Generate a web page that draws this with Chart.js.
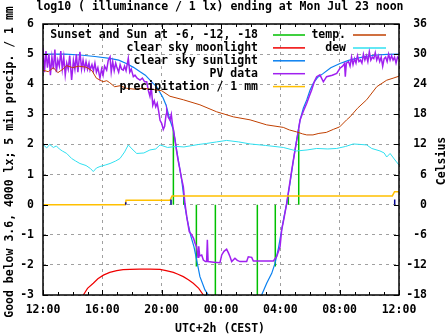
<!DOCTYPE html>
<html>
<head>
<meta charset="utf-8">
<script src="https://cdn.jsdelivr.net/npm/chart.js@4/dist/chart.umd.min.js"></script>
<style>
  html, body { margin: 0; padding: 0; background: #fff; }
  canvas { display: block; }
</style>
</head>
<body>
<canvas id="grafico" width="447" height="335"></canvas>
<script>
// x = hours after 12:00 (Sun noon -> Mon noon)
const xTickLabels = ['12:00', '16:00', '20:00', '00:00', '04:00', '08:00', '12:00'];

// sunset / sun at -6, -12, -18 deg, evening then morning
const sunEventHours = [8.79, 9.49, 10.34, 11.62, 14.45, 15.66, 16.54, 17.24];
const sunEventTops = [2.5, 0.3, -2.05, -3, -3, -2.05, 0.3, 2.5];

const moonHours = [2.72, 3.0, 3.39, 3.7, 4.07, 4.5, 4.97, 5.4, 5.87, 6.5, 7.2, 7.89, 8.3, 8.79, 9.1, 9.46, 9.8, 10.13, 10.5, 10.81];
const moonValues = [-3, -2.78, -2.61, -2.46, -2.34, -2.25, -2.19, -2.16, -2.15, -2.14, -2.14, -2.15, -2.19, -2.25, -2.31, -2.39, -2.49, -2.61, -2.78, -3];

const sunHours = [0, 1.5, 2.5, 3.5, 4.5, 5.1, 5.62, 6.1, 6.52, 6.9, 7.42, 7.66, 8.09, 8.3, 8.56, 8.79, 9.12, 9.35, 9.57, 9.73, 9.95, 10.18, 10.36, 10.58, 10.92, 11.15,
  12.9,
  14.74, 15.08, 15.42, 15.64, 15.87, 16.09, 16.25, 16.43, 16.65, 16.88, 17.1, 17.33, 17.55, 17.78, 18.0, 18.22, 18.5, 18.9, 19.4, 20.02, 20.6, 21.15, 21.8, 22.5, 23.2, 24];
const sunValues = [5.0, 5.0, 4.97, 4.92, 4.86, 4.8, 4.69, 4.56, 4.42, 4.3, 4.03, 3.92, 3.55, 3.3, 2.81, 2.48, 1.48, 0.82, -0.07, -0.51, -1.01, -1.40, -1.84, -2.39, -2.83, -3.0,
  null,
  -3.0, -2.61, -2.28, -1.95, -1.45, -0.84, -0.40, 0.04, 0.71, 1.48, 2.15, 2.81, 3.2, 3.48, 3.8, 4.03, 4.22, 4.36, 4.55, 4.69, 4.79, 4.86, 4.93, 4.97, 4.99, 5.0];

const pvHours = [0, 0.1, 0.2, 0.3, 0.4, 0.5, 0.6, 0.7, 0.8, 0.9, 1.0, 1.1, 1.2, 1.3, 1.4, 1.5, 1.6, 1.7, 1.8, 1.93,
  2.05, 2.15, 2.25, 2.35, 2.49, 2.6, 2.7, 2.8, 2.9, 3.0, 3.1, 3.17, 3.3, 3.4, 3.5, 3.6, 3.7, 3.84, 3.95, 4.05,
  4.15, 4.29, 4.4, 4.52, 4.6, 4.7, 4.8, 4.9, 4.97, 5.1, 5.2, 5.3, 5.41, 5.5, 5.6, 5.75, 5.85, 5.95, 6.09, 6.2,
  6.35, 6.54, 6.7, 6.85, 6.99, 7.1, 7.21, 7.3, 7.4, 7.5, 7.6, 7.7, 7.8, 7.89, 8.0, 8.11, 8.2, 8.3, 8.34, 8.45,
  8.56, 8.65, 8.72, 8.8, 8.9, 9.0, 9.1, 9.24, 9.35, 9.46, 9.57, 9.69, 9.86, 10.02, 10.15, 10.25, 10.36, 10.45, 10.5, 10.56,
  10.7, 10.81, 10.95, 11.03, 11.08, 11.13, 11.5, 11.93, 12.05, 12.2, 12.38, 12.5, 12.61, 12.72, 12.94, 13.1, 13.28, 13.73, 13.84, 14.07,
  14.18, 15.53, 15.75, 15.98, 16.09, 16.25, 16.43, 16.6, 16.77, 16.99, 17.15, 17.33, 17.55, 17.78, 17.95, 18.11, 18.3, 18.45, 18.67, 18.9,
  19.12, 19.5, 19.8, 20.02, 20.2, 20.33, 20.38, 20.45, 20.6, 20.7, 20.8, 20.9, 21.0, 21.1, 21.2, 21.3, 21.4, 21.5, 21.6, 21.7,
  21.8, 21.9, 22.0, 22.1, 22.2, 22.3, 22.4, 22.5, 22.6, 22.7, 22.8, 22.9, 23.0, 23.1, 23.2, 23.3, 23.4, 23.5, 23.6, 23.7,
  23.8, 23.9, 24];
const pvValues = [5.2, 4.4, 5.1, 4.55, 5.0, 4.3, 4.9, 4.5, 5.15, 4.4, 4.8, 4.6, 5.1, 4.5, 4.9, 4.3, 4.7, 4.5, 4.95, 4.14,
  4.8, 4.5, 5.0, 4.4, 5.08, 4.5, 4.8, 4.5, 4.75, 4.5, 4.7, 4.47, 4.65, 4.45, 4.7, 4.4, 4.55, 4.2, 4.5, 4.3,
  4.6, 4.47, 4.8, 4.91, 4.4, 4.75, 4.45, 4.7, 4.58, 4.4, 4.65, 4.5, 4.47, 4.6, 4.45, 4.86, 4.4, 4.5, 4.25, 4.3,
  4.2, 4.14, 4.2, 4.08, 4.08, 3.8, 3.6, 3.9, 3.3, 3.45, 3.25, 3.37, 3.1, 2.8, 2.7, 2.5, 2.6, 3.0, 3.14, 2.9,
  2.81, 3.0, 2.7, 2.45, 2.15, 1.8, 1.5, 1.15, 0.85, 0.6, 0.04, -0.4, -0.9, -1.0, -1.12, -1.28, -1.4, -1.75, -1.38, -1.7,
  -1.67, -1.84, -1.89, -1.89, -1.17, -1.89, -1.91, -1.93, -1.67, -1.55, -1.48, -1.6, -1.73, -1.89, -1.78, -1.85, -1.89, -1.89, -1.73, -1.75,
  -1.87, -1.87, -1.73, -1.4, -0.84, -0.45, 0.04, 0.6, 1.15, 1.81, 2.26, 2.81, 3.1, 3.37, 3.6, 3.81, 4.1, 4.25, 4.31, 4.08,
  4.25, 4.3, 4.36, 4.53, 4.6, 4.69, 4.25, 4.7, 4.75, 4.6, 4.9, 4.65, 4.85, 4.7, 4.95, 4.75, 4.8, 4.7, 5.0, 4.8,
  4.95, 4.75, 5.08, 4.8, 4.9, 4.85, 5.05, 4.8, 4.95, 4.75, 4.9, 4.6, 4.85, 4.9, 4.75, 5.0, 4.8, 4.95, 4.8, 4.9,
  4.7, 4.9, 4.85];

// cumulative precipitation (mm) and 5 min impulses
const precipHours = [0, 5.55, 5.6, 8.55, 8.62, 8.7, 23.55, 23.7, 24];
const precipValues = [0, 0, 0.145, 0.145, 0.2, 0.29, 0.29, 0.43, 0.43];
const rainHours = [5.58, 8.63, 23.71];
const rainValues = [0.08, 0.17, 0.17];

// temperatures in Celsius (right axis)
const tempHours = [0, 0.35, 0.7, 1.0, 1.35, 1.6, 2.0, 2.4, 2.9, 3.3, 3.6, 4.05, 4.3, 4.5, 4.83, 5.2, 5.62, 6.2, 6.74, 7.3,
  8.0, 8.56, 9.46, 10.58, 11.71, 12.83, 13.96, 15.08, 16.2, 16.6, 17.1, 17.5, 17.78, 18.2, 18.6, 19.1, 19.57, 20.0, 20.47, 20.7,
  21.2, 21.82, 22.5, 23.17, 23.6, 24];
const tempCelsius = [26.8, 26.5, 27.3, 26.3, 27.0, 27.7, 27.3, 27.6, 27.4, 26.7, 25.2, 24.5, 24.7, 24.3, 23.5, 23.7, 23.2, 23.0, 23.2, 23.0,
  22.7, 21.6, 20.9, 19.9, 18.5, 17.5, 16.9, 15.9, 15.4, 14.9, 14.5, 14.1, 13.9, 13.9, 14.2, 14.4, 15.0, 15.5, 16.9, 17.5,
  19.2, 20.9, 23.5, 24.8, 25.2, 25.6];

const dewHours = [0, 0.25, 0.45, 0.7, 0.9, 1.1, 1.3, 1.6, 1.93, 2.2, 2.49, 2.9, 3.2, 3.39, 3.6, 3.84, 4.2, 4.52, 4.9, 5.19,
  5.5, 5.75, 6.0, 6.32, 6.8, 7.21, 7.6, 7.89, 8.4, 9.01, 9.5, 9.91, 10.5, 11.03, 11.7, 12.38, 13.2, 13.96, 15.0, 16.2,
  17.1, 17.8, 18.45, 19.2, 19.8, 20.4, 20.92, 21.4, 21.82, 22.16, 22.72, 23.0, 23.17, 23.4, 23.73, 24];
const dewCelsius = [12.0, 11.3, 12.0, 11.4, 11.7, 11.1, 10.7, 10.2, 9.2, 8.7, 8.2, 7.8, 7.2, 6.6, 7.3, 7.6, 7.9, 8.2, 8.7, 9.2,
  10.5, 11.9, 11.1, 10.2, 10.3, 10.9, 11.1, 11.9, 11.4, 11.6, 11.5, 11.7, 12.0, 12.2, 12.5, 12.8, 12.5, 12.1, 11.8, 11.4,
  10.7, 10.9, 11.2, 11.1, 11.2, 11.6, 12.1, 12.0, 11.9, 11.2, 10.7, 10.3, 9.5, 10.2, 8.9, 7.9];

const FONT = 'bold 11.5px "DejaVu Sans Mono"';

function toPoints(xs, ys) {
  return xs.map((x, i) => ({ x: x, y: ys[i] }));
}

// vertical bars from 0 to top, separated by gaps
function impulses(xs, tops) {
  const pts = [];
  xs.forEach((x, i) => {
    pts.push({ x: x, y: 0 }, { x: x, y: tops[i] }, { x: x, y: null });
  });
  return pts;
}

const decor = {
  id: 'decor',
  afterDatasetsDraw(chart) {
    const { ctx, chartArea: a, scales } = chart;
    const xs = scales.x, ys = scales.y;
    ctx.save();

    // inward tick marks
    ctx.strokeStyle = '#000';
    ctx.lineWidth = 1;
    ctx.beginPath();
    for (let v = -3; v <= 6; v++) {
      const py = Math.round(ys.getPixelForValue(v)) + 0.5;
      ctx.moveTo(a.left, py); ctx.lineTo(a.left + 5, py);
      ctx.moveTo(a.right, py); ctx.lineTo(a.right - 5, py);
    }
    for (let h = 0; h <= 24; h++) {
      const px = Math.round(xs.getPixelForValue(h)) + 0.5;
      const len = h % 4 === 0 ? 5 : 3;
      ctx.moveTo(px, a.bottom); ctx.lineTo(px, a.bottom - len);
      ctx.moveTo(px, a.top); ctx.lineTo(px, a.top + len);
    }
    ctx.stroke();

    // border
    ctx.lineWidth = 1.5;
    ctx.strokeRect(a.left, a.top, a.right - a.left, a.bottom - a.top);

    // legend, gnuplot style: text right-aligned, sample to the right
    ctx.font = FONT;
    ctx.textBaseline = 'middle';
    ctx.textAlign = 'right';
    const cols = [{ textRight: 258, x1: 273, x2: 305 }, { textRight: 346, x1: 353, x2: 386 }];
    chart.data.datasets.forEach(ds => {
      if (!ds.legendSlot) return;
      const c = cols[ds.legendSlot[0]];
      const y = 35 + ds.legendSlot[1] * 12.9;
      ctx.fillStyle = '#000';
      ctx.fillText(ds.label, c.textRight, y);
      ctx.strokeStyle = ds.borderColor;
      ctx.lineWidth = 1.5;
      ctx.beginPath();
      ctx.moveTo(c.x1, y); ctx.lineTo(c.x2, y);
      ctx.stroke();
    });

    // titles
    ctx.fillStyle = '#000';
    ctx.textAlign = 'center';
    ctx.textBaseline = 'alphabetic';
    ctx.fillText('log10 ( illuminance / 1 lx) ending at Mon Jul 23 noon', 220, 9.5);
    ctx.fillText('UTC+2h (CEST)', 220, 332);

    ctx.save();
    ctx.translate(13, 162);
    ctx.rotate(-Math.PI / 2);
    ctx.fillText('Good below 3.6, 4000 lx; 5 min precip. / 1 mm', 0, 0);
    ctx.restore();

    ctx.save();
    ctx.translate(445, 161);
    ctx.rotate(-Math.PI / 2);
    ctx.fillText('Celsius', 0, 0);
    ctx.restore();

    ctx.restore();
  }
};

new Chart(document.getElementById('grafico'), {
  type: 'line',
  data: {
    datasets: [
      { label: 'dew', data: toPoints(dewHours, dewCelsius), yAxisID: 'y2', borderColor: '#30e0f0', borderWidth: 1, legendSlot: [1, 1] },
      { label: 'temp.', data: toPoints(tempHours, tempCelsius), yAxisID: 'y2', borderColor: '#c04000', borderWidth: 1, legendSlot: [1, 0] },
      { label: '5 min precip.', data: impulses(rainHours, rainValues), borderColor: '#000090', borderWidth: 1.5 },
      { label: 'precipitation / 1 mm', data: toPoints(precipHours, precipValues), borderColor: '#ffc000', borderWidth: 1.5, legendSlot: [0, 4] },
      { label: 'PV data', data: toPoints(pvHours, pvValues), borderColor: '#a020f0', borderWidth: 1.5, legendSlot: [0, 3] },
      { label: 'clear sky sunlight', data: toPoints(sunHours, sunValues), borderColor: '#0a80f0', borderWidth: 1.2, legendSlot: [0, 2] },
      { label: 'clear sky moonlight', data: toPoints(moonHours, moonValues), borderColor: '#f00000', borderWidth: 1.2, legendSlot: [0, 1] },
      { label: 'Sunset and Sun at -6, -12, -18', data: impulses(sunEventHours, sunEventTops), borderColor: '#00c000', borderWidth: 1.5, legendSlot: [0, 0] }
    ]
  },
  options: {
    responsive: false,
    animation: false,
    devicePixelRatio: 1,
    spanGaps: false,
    elements: { point: { radius: 0 }, line: { tension: 0, fill: false } },
    layout: { padding: { top: 24, right: 20, left: 0, bottom: 0 } },
    plugins: { legend: { display: false }, tooltip: { enabled: false } },
    scales: {
      x: {
        type: 'linear', min: 0, max: 24,
        afterFit: s => { s.height = 40; },
        ticks: { stepSize: 4, padding: 8, color: '#000', font: { family: 'DejaVu Sans Mono', size: 11.5, weight: 'bold' },
          callback: v => xTickLabels[v / 4], maxRotation: 0 },
        grid: { color: '#a0a0a0', lineWidth: 1, drawTicks: false },
        border: { display: false, dash: [3, 4] }
      },
      y: {
        position: 'left', min: -3, max: 6,
        afterFit: s => { s.width = 43; },
        ticks: { stepSize: 1, padding: 9, color: '#000', font: { family: 'DejaVu Sans Mono', size: 11.5, weight: 'bold' } },
        grid: { color: '#a0a0a0', lineWidth: 1, drawTicks: false },
        border: { display: false, dash: [3, 4] }
      },
      y2: {
        position: 'right', min: -18, max: 36,
        afterFit: s => { s.width = 28; },
        ticks: { stepSize: 6, crossAlign: 'far', color: '#000', font: { family: 'DejaVu Sans Mono', size: 11.5, weight: 'bold' } },
        grid: { display: false, drawTicks: false },
        border: { display: false }
      }
    }
  },
  plugins: [decor]
});
</script>
</body>
</html>
